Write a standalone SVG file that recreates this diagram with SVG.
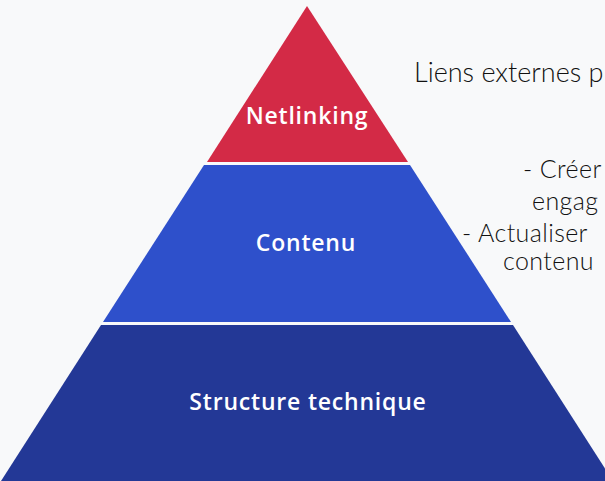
<svg xmlns="http://www.w3.org/2000/svg" width="605" height="481" viewBox="0 0 605 481">
<style>
.lbl{font-family:"Open Sans","Liberation Sans",sans-serif;font-weight:600;fill:#ffffff;text-anchor:middle;font-size:23px;letter-spacing:0.8px}
.side{font-family:"Lato","Liberation Sans",sans-serif;font-weight:300;fill:#111111}
</style>
<rect width="605" height="481" fill="#f8f9fa"/>
<g id="netlinking">
<polygon points="307,6 207,162 408,162" fill="#d32a46"/>
<text class="lbl" x="307" y="124">Netlinking</text>
</g>
<g id="contenu">
<polygon points="204,165 410,165 511,322 103,322" fill="#2e50cb"/>
<text class="lbl" x="306" y="251">Contenu</text>
</g>
<g id="structure">
<polygon points="101,325 513,325 613,481 1,481" fill="#233896"/>
<text class="lbl" x="308" y="410">Structure technique</text>
</g>
<g id="texts">
<text class="side" x="414" y="82" font-size="27" letter-spacing="0">Liens externes p</text>
<text class="side" x="523" y="178" font-size="25" letter-spacing="0.4">- Créer</text>
<text class="side" x="532" y="210" font-size="25" letter-spacing="0.4">engag</text>
<text class="side" x="462" y="242" font-size="25" letter-spacing="0.4">- Actualiser</text>
<text class="side" x="503" y="270" font-size="25" letter-spacing="0.4">contenu</text>
</g>
</svg>
